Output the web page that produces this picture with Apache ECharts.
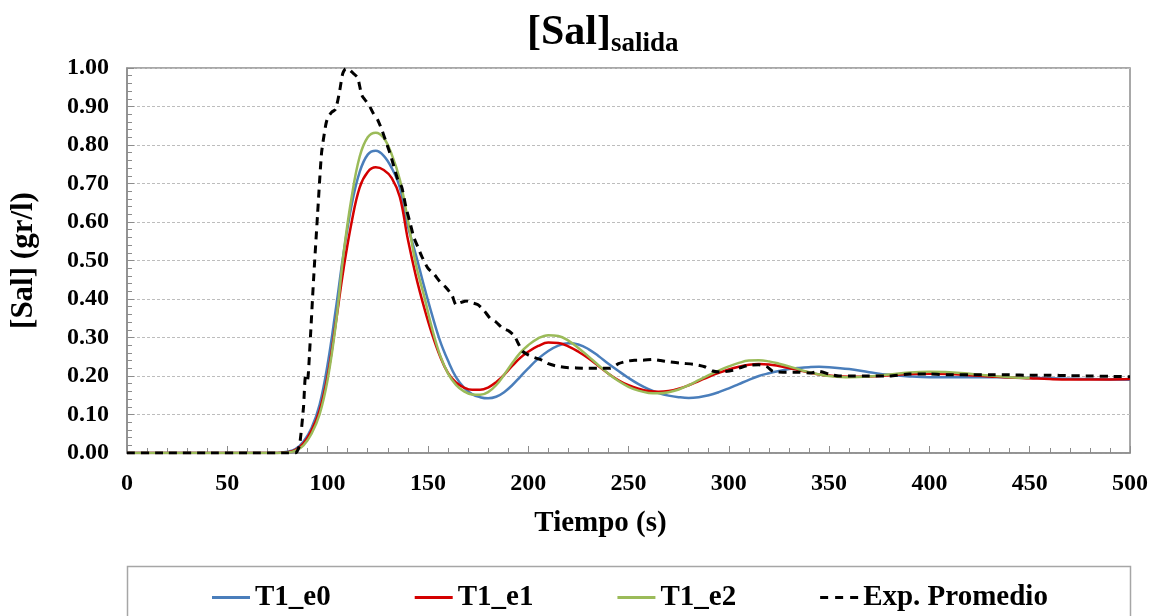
<!DOCTYPE html>
<html>
<head>
<meta charset="utf-8">
<script src="https://cdn.jsdelivr.net/npm/echarts@6/dist/echarts.min.js"></script>
<style>html,body{margin:0;padding:0;background:#fff;}#c{width:1153px;height:616px;}</style>
</head>
<body>
<div id="c"></div>
<script>
// ---- data ----
const tModel = [0,10,20,30,40,50,60,70,75,
  80,84,88,92,96,100,104,108,112,116,120,124,128,132,136,140,144,148,152,156,160,164,168,172,176,180,184,188,192,196,200,
  205,210,215,220,225,230,235,240,245,250,255,260,265,270,275,280,285,290,295,300,305,310,315,320,325,330,335,340,345,350,
  360,370,380,390,400,410,420,430,440,450,460,470,480,490,500];

const T1_e0 = [0,0,0,0,0,0,0,0,0,
  0.003,0.01,0.03,0.065,0.125,0.23,0.37,0.52,0.645,0.73,0.775,0.785,0.772,0.74,0.69,0.59,0.515,0.435,0.36,0.292,0.24,0.197,0.17,0.153,0.145,0.142,0.146,0.158,0.176,0.198,0.22,
  0.245,0.265,0.279,0.285,0.282,0.27,0.252,0.232,0.213,0.195,0.179,0.166,0.156,0.149,0.145,0.143,0.145,0.15,0.158,0.168,0.179,0.19,0.2,0.207,0.213,0.218,0.221,0.223,0.224,0.223,
  0.218,0.21,0.203,0.199,0.197,0.197,0.197,0.197,0.196,0.195,0.194,0.193,0.192,0.191,0.19];

const T1_e1 = [0,0,0,0,0,0,0,0,0,
  0.002,0.008,0.025,0.058,0.11,0.2,0.335,0.48,0.6,0.69,0.73,0.742,0.735,0.714,0.665,0.555,0.46,0.38,0.31,0.252,0.208,0.183,0.17,0.164,0.164,0.17,0.184,0.203,0.226,0.247,0.263,
  0.278,0.287,0.286,0.277,0.263,0.246,0.226,0.206,0.189,0.176,0.167,0.161,0.159,0.161,0.167,0.176,0.187,0.198,0.208,0.217,0.224,0.229,0.231,0.23,0.226,0.221,0.215,0.209,0.204,0.201,
  0.198,0.199,0.202,0.205,0.206,0.205,0.202,0.199,0.196,0.194,0.192,0.191,0.191,0.191,0.192];

const T1_e2 = [0,0,0,0,0,0,0,0,0,
  0.001,0.006,0.02,0.05,0.1,0.19,0.33,0.52,0.665,0.77,0.82,0.832,0.818,0.775,0.71,0.605,0.49,0.41,0.325,0.255,0.207,0.177,0.16,0.152,0.151,0.158,0.176,0.203,0.233,0.26,0.28,
  0.298,0.306,0.304,0.292,0.273,0.251,0.228,0.206,0.187,0.172,0.162,0.156,0.155,0.158,0.165,0.176,0.189,0.202,0.214,0.225,0.234,0.24,0.241,0.238,0.232,0.225,0.217,0.21,0.204,0.2,
  0.197,0.199,0.204,0.209,0.211,0.21,0.206,0.201,0.197,0.195,null,null,null,null,null];

const expT = [0,20,40,60,80,84,86,88,89,90,91,93,95,97,99,100,102,104,106,107.5,109,111,113,115,117,119,121,123,125,127,129,131,133,135,137,139,141,143,145,147,150,153,156,159,162,164,166,169,172,175,178,181,184,187,190,193,195,197,200,203,206,210,214,219,224,230,236,241,245,249,253,257,262,266,270,277,283,288,292,296,302,306,310,315,319,322,327,335,341,345,350,355,360,370,380,390,400,410,420,430,440,450,460,470,480,490,500];
const expV = [0,0,0,0,0,0,0.02,0.12,0.2,0.19,0.26,0.45,0.62,0.78,0.85,0.87,0.885,0.893,0.94,0.985,0.998,0.995,0.985,0.975,0.93,0.915,0.9,0.88,0.865,0.84,0.81,0.78,0.745,0.71,0.69,0.64,0.6,0.56,0.535,0.51,0.48,0.465,0.445,0.43,0.41,0.385,0.39,0.395,0.39,0.385,0.37,0.35,0.34,0.325,0.318,0.305,0.285,0.265,0.255,0.248,0.243,0.232,0.226,0.222,0.221,0.22,0.22,0.22,0.232,0.238,0.241,0.241,0.243,0.24,0.237,0.233,0.23,0.224,0.213,0.21,0.215,0.222,0.228,0.229,0.224,0.212,0.21,0.21,0.208,0.212,0.205,0.2,0.2,0.2,0.2,0.205,0.205,0.203,0.203,0.203,0.203,0.202,0.202,0.201,0.2,0.199,0.198];

const seriesNames = ['T1_e0','T1_e1','T1_e2','Exp. Promedio'];
const xTicks = {min:0, max:500, interval:50};
const yTicks = {min:0, max:1, interval:0.1};

// ---- chart ----
const FONT = "'Liberation Serif','Times New Roman',serif";
const pair = (xs, ys) => xs.map((x,i)=>[x, ys[i]]);
const chart = echarts.init(document.getElementById('c'), null, {renderer:'canvas'});
const axisCol = '#8c8c8c';
const solidIcon = 'path://M0,0H38V3H0Z';
const dashIcon = 'path://M0,0H8V3H0Z M15,0H23V3H15Z M30,0H38V3H30Z';
chart.setOption({
  animation:false,
  backgroundColor:'#ffffff',
  title:[
    {text:'[Sal]', left:527, top:12, padding:0, textStyle:{fontFamily:FONT, fontWeight:'bold', fontSize:42, color:'#000'}},
    {text:'salida', left:611, top:31, padding:0, textStyle:{fontFamily:FONT, fontWeight:'bold', fontSize:27, color:'#000'}}
  ],
  grid:{left:127, right:23, top:68, bottom:163, show:true, borderColor:axisCol, borderWidth:1.5, backgroundColor:'transparent'},
  xAxis:{
    type:'value', min:xTicks.min, max:xTicks.max, interval:xTicks.interval,
    name:'Tiempo (s)', nameLocation:'middle', nameGap:56,
    nameTextStyle:{fontFamily:FONT, fontWeight:'bold', fontSize:29, color:'#000', padding:[0,56,0,0]},
    axisLine:{show:true, lineStyle:{color:axisCol, width:1.5}},
    axisTick:{show:true, inside:true, length:7, lineStyle:{color:axisCol, width:1}},
    minorTick:{show:true, splitNumber:5, length:5, lineStyle:{color:axisCol, width:1}},
    splitLine:{show:false},
    axisLabel:{fontFamily:FONT, fontWeight:'bold', fontSize:24, color:'#000', margin:19}
  },
  yAxis:{
    type:'value', min:yTicks.min, max:yTicks.max, interval:yTicks.interval,
    name:'[Sal] (gr/l)', nameLocation:'middle', nameGap:88, nameRotate:90,
    nameTextStyle:{fontFamily:FONT, fontWeight:'bold', fontSize:31, color:'#000'},
    axisLine:{show:true, lineStyle:{color:axisCol, width:1.5}},
    axisTick:{show:true, inside:true, length:7, lineStyle:{color:axisCol, width:1}},
    minorTick:{show:true, splitNumber:5, length:5, lineStyle:{color:axisCol, width:1}},
    splitLine:{show:true, lineStyle:{color:'#bdbdbd', width:1, type:[3,2]}},
    axisLabel:{fontFamily:FONT, fontWeight:'bold', fontSize:24, color:'#000', margin:18, formatter:v=>v.toFixed(2)}
  },
  legend:{
    data:[
      {name:seriesNames[0], icon:solidIcon},
      {name:seriesNames[1], icon:solidIcon},
      {name:seriesNames[2], icon:solidIcon},
      {name:seriesNames[3], icon:dashIcon}
    ],
    left:212, top:583, padding:0, itemGap:84, itemWidth:38, itemHeight:3,
    textStyle:{fontFamily:FONT, fontWeight:'bold', fontSize:29, color:'#000', padding:[0,0,0,0]}
  },
  graphic:[{type:'rect', shape:{x:127.5, y:566.5, width:1003, height:80}, style:{fill:'transparent', stroke:'#a6a6a6', lineWidth:1.5}, silent:true, z:-1}],
  series:[
    {name:seriesNames[0], type:'line', data:pair(tModel,T1_e0), smooth:0.4, showSymbol:false, symbol:'none', lineStyle:{color:'#4A7EBB', width:2.5}, itemStyle:{color:'#4A7EBB'}},
    {name:seriesNames[1], type:'line', data:pair(tModel,T1_e1), smooth:0.4, showSymbol:false, symbol:'none', lineStyle:{color:'#D40000', width:2.5}, itemStyle:{color:'#D40000'}},
    {name:seriesNames[2], type:'line', data:pair(tModel,T1_e2), smooth:0.4, showSymbol:false, symbol:'none', connectNulls:false, lineStyle:{color:'#9BBB59', width:2.5}, itemStyle:{color:'#9BBB59'}},
    {name:seriesNames[3], type:'line', data:pair(expT,expV), smooth:0.2, showSymbol:false, symbol:'none', lineStyle:{color:'#000', width:3, type:[8,6]}, itemStyle:{color:'#000'}}
  ]
});
</script>
</body>
</html>
